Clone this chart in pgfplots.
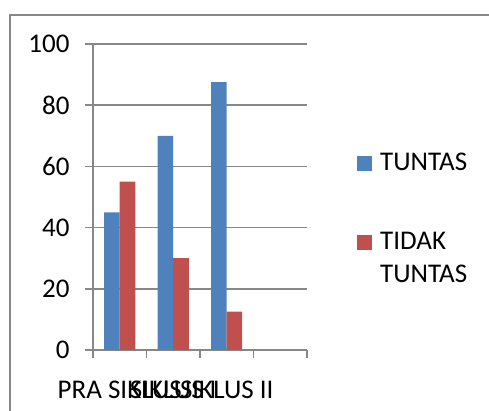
\documentclass[border=0pt]{standalone}
\usepackage{pgfplots}
\pgfplotsset{compat=1.18}
\usepackage{fontspec}
\setmainfont{Carlito}
\definecolor{cblue}{HTML}{4F81BD}
\definecolor{cred}{HTML}{C0504D}
\definecolor{cgrid}{HTML}{878787}
\newcommand{\bigf}{\fontsize{27pt}{33pt}\selectfont}
\begin{document}
\begin{tikzpicture}[x=1pt,y=1pt]
\useasboundingbox (0,0) rectangle (489,411);
\draw[cgrid, line width=1.5pt] (10,-5) -- (10,396) -- (495,396);
\begin{axis}[
 at={(93pt,61pt)}, anchor=south west,
 scale only axis, width=214pt, height=306pt,
 xmin=-0.5, xmax=3.5, ymin=0, ymax=100,
 ytick={0,20,...,100},
 xtick={-0.5,0.5,1.5,2.5,3.5},
 x tick label as interval=true,
 xticklabels={PRA SIKLUS, SIKLUS I, SIKLUS II, {}},
 /pgf/number format/assume math mode=true,
 tick label style={font=\bigf},
 yticklabel style={xshift=-12pt},
 xticklabel style={yshift=-19pt},
 axis lines=left,
 axis line style={cgrid, line width=1.5pt, -},
 tick style={cgrid, line width=1.5pt},
 tick align=outside, major tick length=8pt,
 ymajorgrids, grid style={cgrid, line width=1.5pt},
 ybar=0pt, bar width=15.5pt,
 legend image code/.code={\fill[#1] (0pt,0pt) rectangle (15pt,15pt);},
 legend style={draw=none, fill=none, font=\bigf,
   at={(axis description cs:1.2336,0.650)}, anchor=north west,
   inner sep=0pt, row sep=56pt, column sep=6pt,
   cells={anchor=base west, inner sep=0pt}},
]
\addplot[fill=cblue, draw=none] coordinates {(0,45) (1,70) (2,87.5)};
\addlegendentry{TUNTAS}
\addplot[fill=cred, draw=none] coordinates {(0,55) (1,30) (2,12.5)};
\addlegendentry{\parbox[t]{100pt}{\bigf TIDAK\\TUNTAS}}
\end{axis}
\end{tikzpicture}
\end{document}
